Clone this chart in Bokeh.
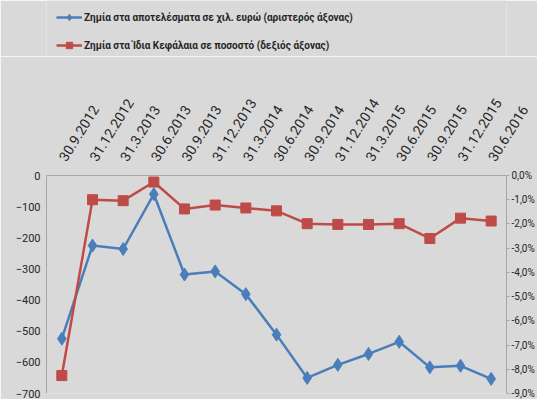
import math
from bokeh.plotting import figure
from bokeh.layouts import column
from bokeh.models import (Range1d, LinearAxis, FactorRange, FixedTicker, Legend,
                          LegendItem, ColumnDataSource)
from bokeh.embed import file_html
from bokeh.resources import INLINE

dates = ["30.9.2012", "31.12.2012", "31.3.2013", "30.6.2013", "30.9.2013",
         "31.12.2013", "31.3.2014", "30.6.2014", "30.9.2014", "31.12.2014",
         "31.3.2015", "30.6.2015", "30.9.2015", "31.12.2015", "30.6.2016"]
losses_keur = [-524, -225, -236, -60, -318, -308, -381, -511, -650, -608,
               -573, -534, -616, -611, -653]
equity_loss_pct = [-8.26, -1.00, -1.04, -0.27, -1.38, -1.22, -1.34, -1.46,
                   -1.99, -2.02, -2.02, -1.99, -2.60, -1.76, -1.88]
left_ticks = [0, -100, -200, -300, -400, -500, -600, -700]
right_ticks = [0, -1, -2, -3, -4, -5, -6, -7, -8, -9]
right_tick_labels = ["0,0%", "-1,0%", "-2,0%", "-3,0%", "-4,0%", "-5,0%",
                     "-6,0%", "-7,0%", "-8,0%", "-9,0%"]
legend_labels = ["Ζημία στα αποτελέσματα σε χιλ. ευρώ (αριστερός άξονας)",
                 "Ζημία στα Ίδια Κεφάλαια σε ποσοστό (δεξιός άξονας)"]

BG = "#d9d9d9"
BLUE = "#4a7ebb"
RED = "#be4b48"
FONT = "Roboto"
TXT = "#262626"
AX = "#a6a6a6"
W = 537
H_LEG = 56
H_MAIN = 399 - H_LEG

src = ColumnDataSource(dict(d=dates, l=losses_keur, e=equity_loss_pct))

# ---- main chart ----
p = figure(x_range=FactorRange(*dates), y_range=Range1d(-700, 0),
           width=W, height=H_MAIN, x_axis_location="above",
           output_backend="svg", toolbar_location=None,
           min_border_left=46, min_border_right=0, min_border_bottom=6,
           min_border_top=119)
p.extra_y_ranges = {"pct": Range1d(-9, 0)}
p.background_fill_color = BG
p.border_fill_color = BG
p.outline_line_color = None
p.grid.visible = False

xa = p.xaxis[0]
xa.major_label_orientation = math.radians(58)
xa.major_tick_out = 0
xa.major_tick_in = 0
xa.major_label_standoff = 16
xa.axis_line_color = AX
xa.major_label_text_font = FONT
xa.major_label_text_font_size = "14px"
xa.major_label_text_color = TXT

ya = p.yaxis[0]
ya.ticker = FixedTicker(ticks=left_ticks)
ya.major_tick_out = 0
ya.major_tick_in = 0
ya.minor_tick_out = 0
ya.minor_tick_in = 0
ya.major_label_standoff = 6
ya.axis_line_color = AX
ya.major_label_text_font = FONT
ya.major_label_text_font_size = "11px"
ya.major_label_text_color = TXT

ra = LinearAxis(y_range_name="pct", ticker=FixedTicker(ticks=right_ticks))
ra.major_label_overrides = {t: s for t, s in zip(right_ticks, right_tick_labels)}
ra.major_tick_out = 3
ra.major_tick_in = 0
ra.minor_tick_out = 0
ra.minor_tick_in = 0
ra.major_tick_line_color = AX
ra.major_label_standoff = 2
ra.axis_line_color = AX
ra.major_label_text_font = FONT
ra.major_label_text_font_size = "10px"
ra.major_label_text_color = TXT
p.add_layout(ra, "right")

p.line("d", "l", source=src, color=BLUE, line_width=2.5)
p.scatter("d", "l", source=src, marker="diamond", size=13, color=BLUE)
p.line("d", "e", source=src, color=RED, line_width=2.5, y_range_name="pct")
p.scatter("d", "e", source=src, marker="square", size=10, color=RED,
          y_range_name="pct")

# ---- legend strip (same series, range set so only the legend shows) ----
lg = figure(width=W, height=H_LEG, x_range=FactorRange(*dates),
            y_range=Range1d(1000, 2000),
            x_axis_type=None, y_axis_type=None, output_backend="svg",
            toolbar_location=None, min_border=0)
lg.background_fill_color = BG
lg.border_fill_color = BG
lg.outline_line_color = None
lg.grid.visible = False
bl = lg.line("d", "l", source=src, color=BLUE, line_width=2.5)
bm = lg.scatter("d", "l", source=src, marker="diamond", size=11, color=BLUE)
rl = lg.line("d", "e", source=src, color=RED, line_width=2.5)
rm = lg.scatter("d", "e", source=src, marker="square", size=9, color=RED)

leg = Legend(items=[LegendItem(label=legend_labels[0], renderers=[bl, bm]),
                    LegendItem(label=legend_labels[1], renderers=[rl, rm])],
             location=(10, 3), margin=0, padding=2, spacing=12,
             label_height=16, glyph_height=16, glyph_width=26,
             label_standoff=2, background_fill_alpha=0,
             border_line_color=None, label_text_font=FONT,
             label_text_font_size="10px", label_text_font_style="bold",
             label_text_color=TXT)
lg.add_layout(leg, "center")

layout = column(lg, p, spacing=0)
open("out.html", "w").write(file_html(layout, INLINE))
